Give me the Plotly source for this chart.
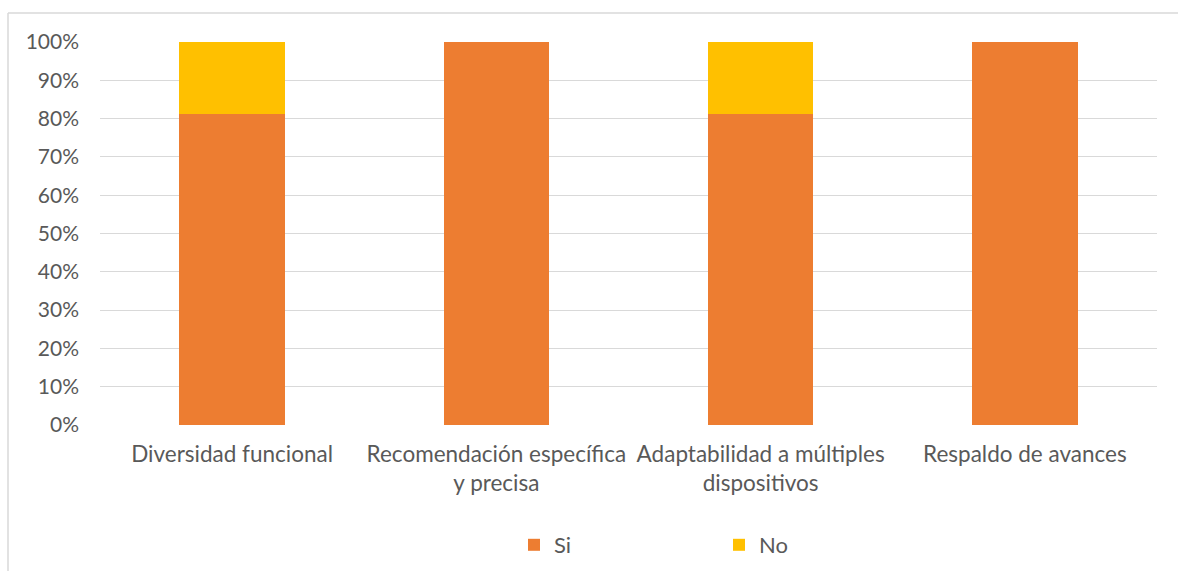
import plotly.graph_objects as go

categories = ["Diversidad funcional", "Recomendación específica<br>y precisa",
              "Adaptabilidad a múltiples<br>dispositivos", "Respaldo de avances"]
si_values = [81.25, 100, 81.25, 100]
no_values = [18.75, 0, 18.75, 0]
tick_vals = [0, 10, 20, 30, 40, 50, 60, 70, 80, 90, 100]
tick_text = [f"{v}%" for v in tick_vals]

W, H = 1178, 571
L, R, T, B = 100, 1157, 42, 425

fig = go.Figure()
fig.add_trace(go.Bar(x=categories, y=si_values, name="Si", marker_color="#ED7D31", marker_line_width=0))
fig.add_trace(go.Bar(x=categories, y=no_values, name="No", marker_color="#FFC000", marker_line_width=0))

font = dict(family="Lato, Carlito, Calibri, sans-serif", size=21, color="#595959")
xfont = dict(family="Lato, Carlito, Calibri, sans-serif", size=22.5, color="#595959")
lfont = dict(family="Lato, Carlito, Calibri, sans-serif", size=22, color="#595959")

def px_x(p):
    return (p - L) / (R - L)

def px_y(p):
    return (B - p) / (B - T)

fig.update_layout(
    barmode="stack",
    bargap=0.6,
    width=W, height=H,
    margin=dict(l=L, r=W - R, t=T, b=H - B, autoexpand=False),
    plot_bgcolor="white", paper_bgcolor="white",
    font=font,
    showlegend=True,
    legend=dict(orientation="h", x=719 / W, xref="container", xanchor="center",
                y=1 - 545 / H, yref="container", yanchor="middle",
                entrywidth=160, entrywidthmode="pixels", font=lfont, traceorder="normal",
                itemwidth=30),
    xaxis=dict(showgrid=False, showline=False, ticks="", tickfont=xfont, ticklabelstandoff=13,
               automargin=False),
    yaxis=dict(range=[0, 100], tickvals=tick_vals, ticktext=tick_text, showgrid=True,
               gridcolor="#D9D9D9", gridwidth=1, zeroline=False, showline=False,
               tickfont=font, ticklabelstandoff=20, automargin=False),
    shapes=[
        dict(type="line", xref="paper", yref="paper", x0=px_x(8), x1=px_x(1178), y0=px_y(13), y1=px_y(13),
             line=dict(color="#D9D9D9", width=1.5)),
        dict(type="line", xref="paper", yref="paper", x0=px_x(8), x1=px_x(8), y0=px_y(13), y1=px_y(571),
             line=dict(color="#D9D9D9", width=1.5)),
    ],
)

fig.write_html("out.html")
